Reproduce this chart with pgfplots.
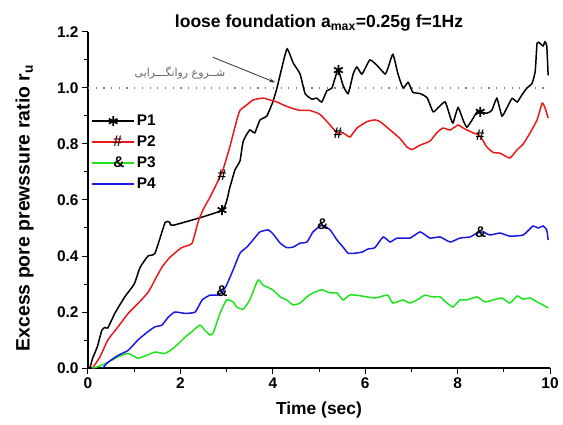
\documentclass[border=0pt]{standalone}
\usepackage{pgfplots}
\pgfplotsset{compat=1.18}
\usetikzlibrary{arrows.meta}
\usepackage{fontspec}
\setmainfont{Liberation Sans}
\newfontfamily\arabicfont[Script=Arabic]{DejaVu Sans}
\TeXXeTstate=1
\definecolor{pgreen}{RGB}{30,228,30}
\definecolor{pblue}{RGB}{25,25,225}
\definecolor{pred}{RGB}{235,25,25}
\begin{document}
\begin{tikzpicture}
\useasboundingbox (-88bp,-57bp) rectangle (475bp,368bp);
\begin{axis}[
  at={(0,0)}, anchor=south west,
  scale only axis, width=462bp, height=336bp,
  xmin=0, xmax=10, ymin=0, ymax=1.2,
  axis lines=left, axis line style={-, line width=1.1bp},
  xtick={0,2,4,6,8,10}, minor x tick num=1,
  ytick={0,0.2,0.4,0.6,0.8,1.0,1.2}, minor y tick num=1,
  tick align=outside, major tick length=6bp, minor tick length=3.5bp,
  tick style={line width=1bp, black},
  /pgf/number format/assume math mode=true,
  ticklabel style={font=\fontsize{15.5}{18}\selectfont\bfseries},
  yticklabel style={/pgf/number format/.cd, fixed, fixed zerofill, precision=1},
  xticklabel style={/pgf/number format/.cd, fixed, precision=0},
  xlabel={Time (sec)},
  ylabel={Excess pore prewssure ratio r\textsubscript{u}},
  xlabel style={font=\fontsize{17.5}{20}\selectfont\bfseries, at={(axis description cs:0.5,-0.125)}, anchor=center},
  ylabel style={font=\fontsize{19.5}{22}\selectfont\bfseries, at={(axis description cs:-0.137,0.476)}, anchor=center},
  title={loose foundation a\textsubscript{max}=0.25g f=1Hz},
  every axis title shift=0pt,
  title style={font=\fontsize{17.6}{20}\selectfont\bfseries, at={(axis description cs:0.5,1.012)}, anchor=base},
  legend style={at={(axis cs:0.07,0.911)}, anchor=north west, draw=none, fill=none,
    font=\fontsize{15.5}{18}\selectfont\bfseries, row sep=4.8bp, inner sep=0pt},
  legend cell align=left,
  text mark as node=true,
  text mark style={font=\fontsize{15.5}{18}\selectfont\bfseries, text=black, inner sep=0pt},
]
% dotted liquefaction line
\addplot[forget plot, gray, line width=1.2bp, dash pattern=on 1.2bp off 6.5bp] coordinates {(0,1) (10,1)};

% P1
\addplot[forget plot, black, line width=1.5bp, smooth, tension=0.3] coordinates {
(0,0) (0.04,0) (0.1,0.035) (0.2,0.075) (0.3,0.135) (0.37,0.145) (0.43,0.143) (0.58,0.195) (0.8,0.255) (1.0,0.30) (1.13,0.36) (1.3,0.40) (1.45,0.41) (1.67,0.52) (1.77,0.52) (1.85,0.51) (2.9,0.564) (3.07,0.645) (3.18,0.707) (3.29,0.74) (3.36,0.81) (3.5,0.85) (3.61,0.84) (3.72,0.885) (3.87,0.90) (4.0,0.95) (4.09,1.0) (4.2,1.075) (4.31,1.14) (4.44,1.09) (4.59,1.05) (4.7,0.98) (4.85,0.96) (4.95,0.964) (5.06,0.95) (5.17,0.99) (5.28,1.0) (5.41,1.064) (5.52,1.01) (5.63,0.98) (5.74,1.05) (5.82,1.075) (5.93,1.05) (6.1,1.1) (6.26,1.08) (6.43,1.05) (6.49,1.07) (6.6,1.12) (6.71,1.05) (6.82,1.0) (6.93,1.02) (7.03,0.985) (7.19,0.98) (7.34,0.965) (7.47,0.915) (7.58,0.93) (7.73,0.95) (7.84,0.897) (7.9,0.875) (8.01,0.93) (8.12,0.885) (8.2,0.86) (8.31,0.885) (8.42,0.915) (8.48,0.915) (8.63,0.91) (8.74,0.92) (8.85,0.963) (8.96,0.90) (9.07,0.93) (9.18,0.963) (9.29,0.95) (9.39,0.975) (9.5,1.0) (9.61,1.016) (9.68,1.06) (9.72,1.16) (9.78,1.16) (9.85,1.15) (9.89,1.165) (9.93,1.15) (9.96,1.045)};

% P2
\addplot[forget plot, pred, line width=1.5bp, smooth, tension=0.3] coordinates {
(0.1,0) (0.26,0.04) (0.43,0.1) (0.65,0.147) (0.87,0.195) (1.08,0.23) (1.3,0.27) (1.45,0.315) (1.6,0.36) (1.77,0.395) (2.03,0.43) (2.25,0.445) (2.38,0.52) (2.49,0.565) (2.64,0.61) (2.79,0.66) (2.92,0.707) (3.07,0.79) (3.22,0.885) (3.29,0.92) (3.44,0.94) (3.57,0.957) (3.79,0.964) (3.94,0.957) (4.09,0.95) (4.22,0.94) (4.37,0.93) (4.59,0.92) (4.8,0.92) (5.02,0.906) (5.2,0.875) (5.39,0.84) (5.52,0.84) (5.67,0.825) (5.82,0.857) (6.04,0.88) (6.21,0.886) (6.32,0.88) (6.54,0.85) (6.75,0.82) (6.9,0.79) (7.01,0.78) (7.19,0.796) (7.4,0.81) (7.55,0.84) (7.68,0.857) (7.84,0.85) (8.01,0.868) (8.12,0.857) (8.33,0.84) (8.48,0.83) (8.63,0.79) (8.77,0.77) (8.92,0.767) (9.13,0.75) (9.29,0.78) (9.42,0.80) (9.57,0.84) (9.72,0.886) (9.83,0.946) (9.89,0.93) (9.96,0.893)};

% P3
\addplot[forget plot, pgreen, line width=1.5bp, smooth, tension=0.3] coordinates {
(0.1,0) (0.22,0.005) (0.43,0.02) (0.65,0.04) (0.87,0.052) (1.08,0.035) (1.3,0.047) (1.45,0.057) (1.67,0.052) (1.88,0.075) (2.1,0.11) (2.25,0.13) (2.42,0.153) (2.53,0.135) (2.64,0.118) (2.71,0.125) (2.86,0.196) (3.0,0.243) (3.14,0.236) (3.22,0.218) (3.36,0.21) (3.5,0.243) (3.68,0.314) (3.79,0.296) (4.0,0.279) (4.16,0.254) (4.3,0.243) (4.44,0.225) (4.59,0.232) (4.74,0.254) (4.87,0.268) (5.06,0.279) (5.24,0.268) (5.39,0.268) (5.52,0.243) (5.67,0.261) (5.89,0.258) (6.04,0.254) (6.21,0.25) (6.32,0.254) (6.49,0.26) (6.6,0.232) (6.82,0.243) (6.97,0.232) (7.12,0.243) (7.29,0.26) (7.45,0.254) (7.62,0.254) (7.77,0.232) (7.9,0.218) (8.05,0.243) (8.2,0.243) (8.42,0.254) (8.59,0.236) (8.77,0.243) (8.96,0.25) (9.13,0.232) (9.29,0.257) (9.42,0.246) (9.57,0.25) (9.72,0.236) (9.85,0.225) (9.96,0.214)};

% P4
\addplot[forget plot, pblue, line width=1.5bp, smooth, tension=0.3] coordinates {
(0.32,0) (0.43,0.02) (0.65,0.045) (0.87,0.063) (1.08,0.1) (1.3,0.13) (1.45,0.147) (1.6,0.153) (1.73,0.18) (1.88,0.2) (2.1,0.195) (2.32,0.2) (2.47,0.243) (2.64,0.26) (2.79,0.26) (2.9,0.27) (3.0,0.296) (3.14,0.35) (3.29,0.41) (3.44,0.432) (3.57,0.457) (3.72,0.486) (3.9,0.493) (4.0,0.48) (4.16,0.446) (4.3,0.43) (4.44,0.432) (4.59,0.446) (4.74,0.45) (4.87,0.486) (5.06,0.51) (5.24,0.493) (5.39,0.457) (5.52,0.432) (5.63,0.41) (5.78,0.41) (5.93,0.414) (6.06,0.425) (6.21,0.43) (6.39,0.468) (6.54,0.45) (6.69,0.464) (6.97,0.464) (7.19,0.486) (7.4,0.464) (7.62,0.468) (7.84,0.45) (8.05,0.464) (8.27,0.468) (8.42,0.482) (8.55,0.486) (8.7,0.475) (8.92,0.482) (9.13,0.471) (9.42,0.475) (9.63,0.507) (9.74,0.5) (9.85,0.507) (9.93,0.493) (9.96,0.457)};

% markers
\addplot[forget plot, only marks, mark=asterisk, mark size=5bp, mark options={black, line width=1.7bp}] coordinates {(2.9,0.564) (5.42,1.064) (8.49,0.915)};
\addplot[forget plot, only marks, mark=text, text mark={\#}] coordinates {(2.9,0.69) (5.41,0.84) (8.49,0.83)};
\addplot[forget plot, only marks, mark=text, text mark={\&}] coordinates {(2.9,0.275) (5.08,0.515) (8.5,0.485)};

% legend
\addlegendimage{legend image code/.code={%
  \draw[black, line width=1.5bp] (0bp,0bp) -- (42bp,0bp);
  \path plot[mark=asterisk, mark size=5bp, mark options={black, line width=1.7bp}] coordinates {(21bp,0bp)};}}
\addlegendentry{P1}
\addlegendimage{legend image code/.code={%
  \draw[pred, line width=1.5bp] (0bp,0bp) -- (42bp,0bp);
  \node[font=\fontsize{15.5}{18}\selectfont\bfseries, text=black!70!red, inner sep=0pt] at (21bp,0bp) {\#};}}
\addlegendentry{P2}
\addlegendimage{legend image code/.code={%
  \draw[pgreen, line width=1.5bp] (0bp,0bp) -- (42bp,0bp);
  \node[font=\fontsize{15.5}{18}\selectfont\bfseries, text=black, inner sep=0pt] at (21bp,0bp) {\&};}}
\addlegendentry{P3}
\addlegendimage{legend image code/.code={%
  \draw[pblue, line width=1.5bp] (0bp,0bp) -- (42bp,0bp);}}
\addlegendentry{P4}

% annotation
\node[gray!80!black, font=\arabicfont\fontsize{11}{13}\selectfont] at (axis cs:1.99,1.055) {\beginR شــروع روانگـــرایی\endR};
\draw[-{Stealth[length=6bp,width=4bp]}, gray!40!black, line width=0.8bp] (axis cs:2.7,1.11) -- (axis cs:4.05,1.02);
\end{axis}
\end{tikzpicture}
\end{document}
